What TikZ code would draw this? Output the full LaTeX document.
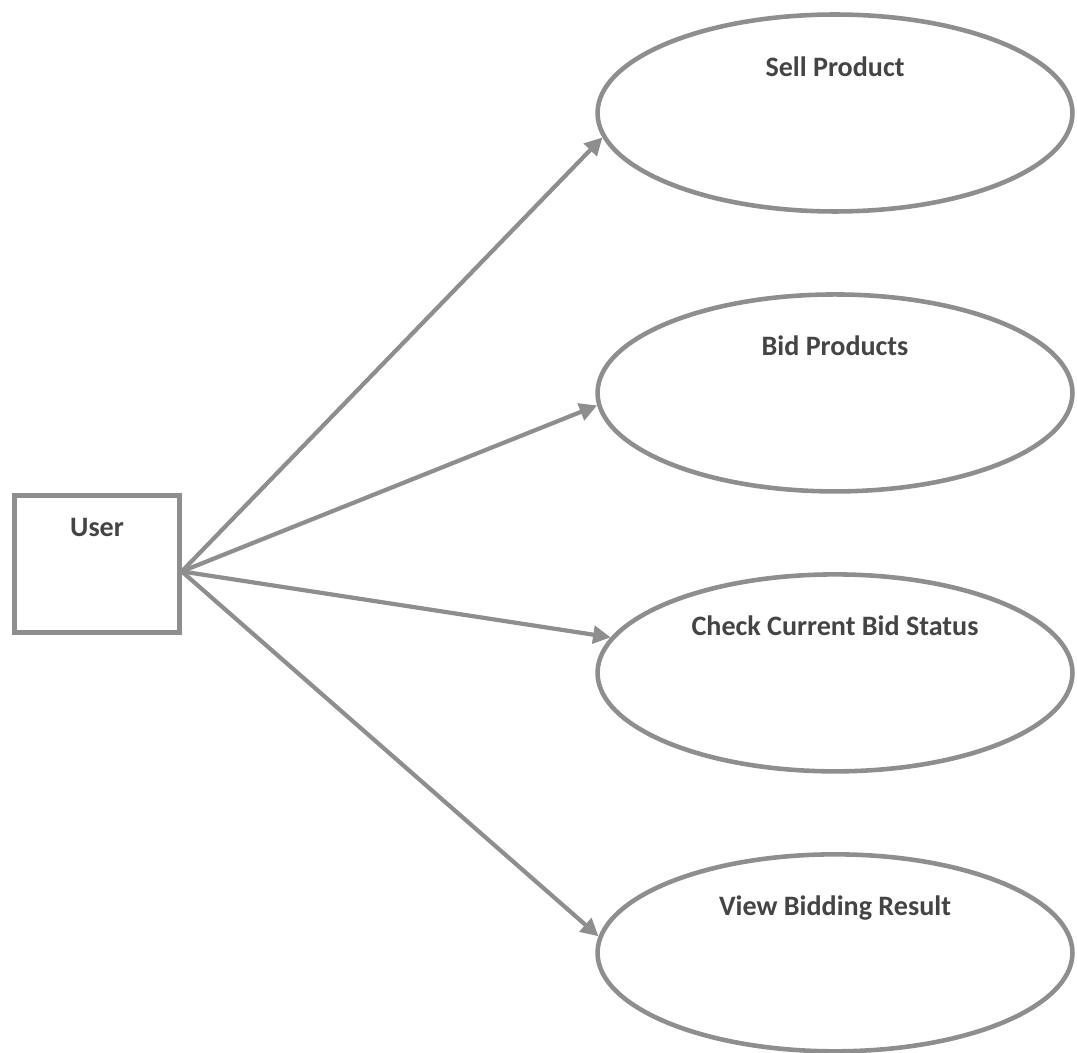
\documentclass[tikz,border=0pt]{standalone}
\usepackage{fontspec}
\setmainfont{Carlito}
\usepackage{tikz}
\usetikzlibrary{arrows.meta,shapes.geometric,positioning}
\definecolor{linegray}{HTML}{8E8E8E}
\definecolor{textgray}{HTML}{444444}
\tikzset{
  basic/.style   = {draw=linegray, line width=2.6pt, text=textgray,
                    font=\fontsize{16}{19}\selectfont\bfseries, align=center},
  actor/.style   = {basic, rectangle, minimum width=3.3cm, minimum height=2.74cm,
                    text height=0.4cm, text depth=1.52cm},
  usecase/.style = {basic, ellipse, minimum width=9.5cm, minimum height=3.94cm,
                    text height=0.4cm, text depth=1.88cm}
}
\begin{document}
\begin{tikzpicture}[x=0.02cm, y=-0.02cm,
  node distance=5.6cm,
  >={Triangle[length=10pt,width=10pt]}]
\useasboundingbox (0,0) rectangle (1077,1053);

% the actor on the left
\node[actor] (u) at (97,564) {User};

% the use cases, stacked on the right
\node[usecase] (c1) at (835,113) {Sell Product};
\node[usecase, below of = c1] (c2) {Bid Products};
\node[usecase, below of = c2] (c3) {Check Current Bid Status};
\node[usecase, below of = c3] (c4) {View Bidding Result};

\foreach \n/\a in {1/186,2/183,3/171,4/176}
  \draw[->, linegray, line width=2.4pt] (u.-5) -- (c\n.\a);
\end{tikzpicture}
\end{document}
